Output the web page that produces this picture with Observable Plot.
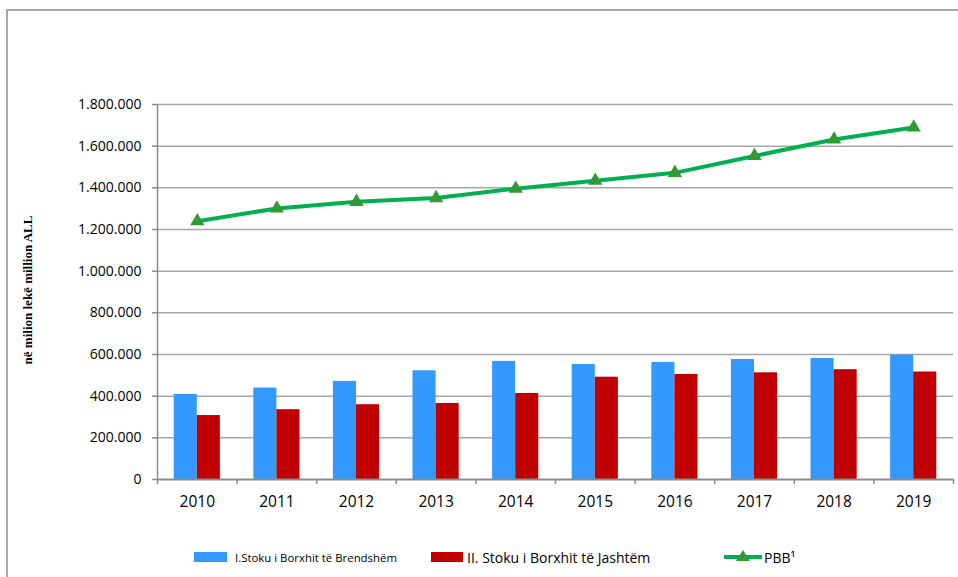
<!DOCTYPE html>
<html>
<head>
<meta charset="utf-8">
<script src="https://cdn.jsdelivr.net/npm/d3@7"></script>
<script src="https://cdn.jsdelivr.net/npm/@observablehq/plot@0.6"></script>
<style>
  html, body { margin: 0; padding: 0; background: #fff; }
  body { width: 958px; height: 577px; position: relative; overflow: hidden; font-family: "Open Sans", sans-serif; }
  #frame { position: absolute; left: 6px; top: 9px; width: 980px; height: 600px; border: 2px solid #a8a8a8; box-sizing: border-box; }
  #chart { position: absolute; left: 0; top: 0; }
  .abs { position: absolute; white-space: nowrap; }
  #ytitle { left: 28px; top: 290px; transform: translate(-50%, -50%) rotate(-90deg); font-family: "Liberation Serif", serif; font-weight: bold; font-size: 13px; color: #000; }
</style>
</head>
<body>
<div id="frame"></div>
<div id="chart"></div>
<div id="ytitle" class="abs">në milion lekë million ALL</div>
<div id="legend"></div>
<script>
const years = ["2010","2011","2012","2013","2014","2015","2016","2017","2018","2019"];
const domestic = [408000, 439000, 471000, 522000, 567000, 552000, 562000, 576000, 581000, 597000];
const external = [307000, 335000, 359000, 365000, 413000, 491000, 504000, 512000, 527000, 516000];
const gdp = [1240000, 1301000, 1333000, 1351000, 1396000, 1434000, 1472000, 1553000, 1632000, 1690000];
const yTicks = [0, 200000, 400000, 600000, 800000, 1000000, 1200000, 1400000, 1600000, 1800000];
const seriesNames = ["I.Stoku i Borxhit të Brendshëm", "II. Stoku i Borxhit të Jashtëm", "PBB¹"];
const colors = { domestic: "#3399FF", external: "#C00000", line: "#00B050", marker: "#339933" };

const data = years.map((year, i) => ({ year, domestic: domestic[i], external: external[i], gdp: gdp[i] }));

const W = 958, mL = 157, mR = 5, mT = 104, mB = 35, H = 514;
const padInner = 0.42;
const step = (W - mL - mR) / years.length;
const bw = step * (1 - padInner);
const fmt = d => d === 0 ? "0" : d3.format(",")(d).replace(/,/g, ".");
const gray = "#8c8c8c";

const chart = Plot.plot({
  width: W, height: H,
  marginLeft: mL, marginRight: mR, marginTop: mT, marginBottom: mB,
  style: { fontFamily: "Open Sans, sans-serif", color: "#000", background: "transparent", overflow: "visible" },
  x: { type: "band", domain: years, paddingInner: padInner, paddingOuter: padInner / 2, round: false, label: null },
  y: { domain: [0, 1800000], label: null },
  marks: [
    Plot.gridY(yTicks.slice(1), { stroke: "#a6a6a6", strokeOpacity: 1, strokeWidth: 1.5 }),
    Plot.barY(data, { x: "year", y: "domestic", fill: colors.domestic, insetRight: bw / 2 }),
    Plot.barY(data, { x: "year", y: "external", fill: colors.external, insetLeft: bw / 2 }),
    Plot.ruleY([0], { stroke: gray, strokeWidth: 2 }),
    Plot.ruleX([years[0]], { y1: 0, y2: 1800000, dx: -step / 2, stroke: gray, strokeWidth: 1.5 }),
    Plot.axisY(yTicks, { tickFormat: fmt, tickSize: 5, tickPadding: 11, stroke: gray, strokeWidth: 1.5, fontSize: 14, label: null }),
    Plot.axisX(years, { tickSize: 5, tickFormat: () => "", dx: -step / 2, stroke: gray, strokeWidth: 1.5, label: null }),
    Plot.axisX([years[years.length - 1]], { tickSize: 5, tickFormat: () => "", dx: step / 2, stroke: gray, strokeWidth: 1.5, label: null }),
    Plot.axisX(years, { tickSize: 0, tickPadding: 16, fontSize: 15.5, label: null }),
    Plot.line(data, { x: "year", y: "gdp", stroke: colors.line, strokeWidth: 4 }),
    Plot.dot(data, { x: "year", y: "gdp", symbol: "triangle", r: 5.3, fill: colors.marker, stroke: null })
  ]
});
document.getElementById("chart").appendChild(chart);

// Legend
const lg = document.getElementById("legend");
function add(html) { lg.insertAdjacentHTML("beforeend", html); }
add(`<div class="abs" style="left:194px;top:552px;width:33px;height:10px;background:${colors.domestic}"></div>`);
add(`<div class="abs" style="left:235px;top:557px;transform:translateY(-50%);font-size:11.4px;color:#000">${seriesNames[0]}</div>`);
add(`<div class="abs" style="left:431px;top:552px;width:32px;height:10px;background:${colors.external}"></div>`);
add(`<div class="abs" style="left:467px;top:557px;transform:translateY(-50%);font-size:14px;color:#000">${seriesNames[1]}</div>`);
add(`<svg class="abs" style="left:722px;top:547px" width="42" height="20"><line x1="2" x2="40" y1="10" y2="10" stroke="${colors.line}" stroke-width="4"/><path d="M21,3 L28,14 L14,14 Z" fill="${colors.marker}"/></svg>`);
add(`<div class="abs" style="left:764px;top:557px;transform:translateY(-50%);font-size:14px;color:#000">${seriesNames[2]}</div>`);
</script>
</body>
</html>
